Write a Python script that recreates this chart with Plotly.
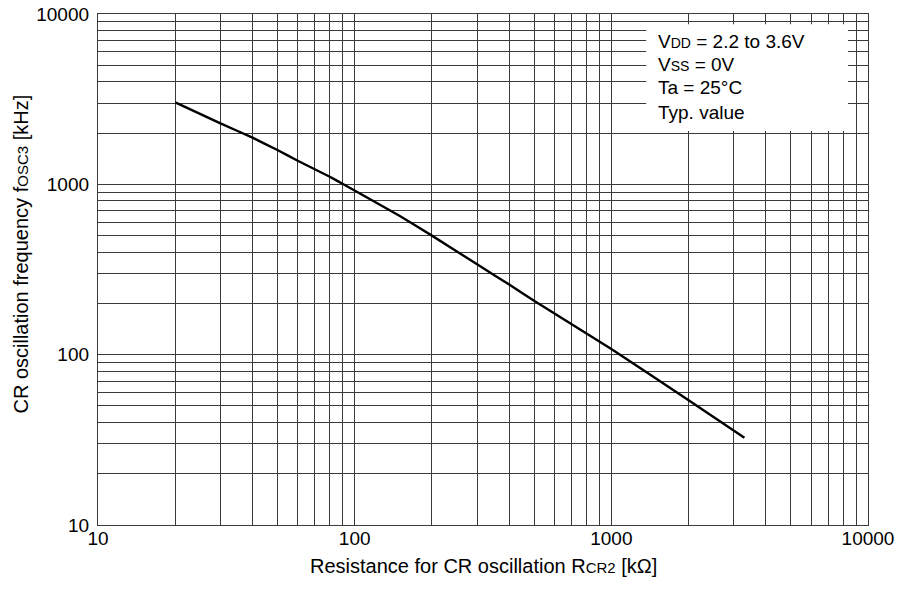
import plotly.graph_objects as go

# Data
resistance_kohm = [20, 30, 40, 50, 60, 80, 90, 150, 200, 300, 400, 500, 1000, 2000, 3300]
freq_khz = [3030, 2281, 1878, 1590, 1376, 1108, 1004, 652, 500, 339, 258, 207, 108, 54, 32.5]

x_ticks = [10, 100, 1000, 10000]
y_ticks = [10, 100, 1000, 10000]
x_tick_labels = ["10", "100", "1000", "10000"]
y_tick_labels = ["10", "100", "1000", "10000"]

note_lines = [
    'V<span style="font-size:14px">DD</span> = 2.2 to 3.6V',
    'V<span style="font-size:14px">SS</span> = 0V',
    'Ta = 25°C',
    'Typ. value',
]
x_title = 'Resistance for CR oscillation R<span style="font-size:15px">CR2</span> [kΩ]'
y_title = 'CR oscillation frequency f<span style="font-size:15px">OSC3</span> [kHz]'

FONT = "Liberation Sans, Arial, Helvetica, sans-serif"
GRID = "#3a3a3a"

fig = go.Figure()
fig.add_trace(go.Scatter(
    x=resistance_kohm, y=freq_khz, mode="lines",
    line=dict(color="black", width=2.4, shape="spline", smoothing=0.3),
    showlegend=False, hoverinfo="skip",
))

axis_common = dict(
    type="log",
    showgrid=True, gridcolor=GRID, gridwidth=1,
    showline=True, linecolor=GRID, linewidth=1.3, mirror=True,
    ticks="", zeroline=False,
    ticklabeloverflow="allow",
    tickfont=dict(family=FONT, size=19, color="black"),
    minor=dict(showgrid=True, gridcolor=GRID, gridwidth=1, dtick="D1"),
)

fig.update_xaxes(
    **axis_common,
    range=[1, 4],
    tickvals=x_ticks, ticktext=x_tick_labels,
    ticklabelstandoff=-4,
)
fig.update_yaxes(
    **axis_common,
    range=[1, 4],
    tickvals=y_ticks, ticktext=y_tick_labels,
    ticklabelstandoff=4,
)

# Axis titles
fig.add_annotation(
    xref="paper", yref="paper", x=0.5, y=-0.080,
    xanchor="center", yanchor="middle", showarrow=False,
    text=x_title, font=dict(family=FONT, size=20, color="black"),
)
fig.add_annotation(
    xref="paper", yref="paper", x=-0.1006, y=0.5303,
    xanchor="center", yanchor="middle", showarrow=False, textangle=-90,
    text=y_title, font=dict(family=FONT, size=20, color="black"),
)

# White box behind the conditions text
fig.add_shape(
    type="rect", xref="paper", yref="paper",
    x0=0.712, x1=0.974, y0=0.771, y1=0.980,
    fillcolor="white", line=dict(width=0), layer="above",
)
for txt, yp in zip(note_lines, [0.9458, 0.9002, 0.8552, 0.8082]):
    fig.add_annotation(
        xref="paper", yref="paper", x=0.7247, y=yp,
        xanchor="left", yanchor="middle", showarrow=False,
        text=txt, align="left",
        font=dict(family=FONT, size=19, color="black"),
    )

fig.update_layout(
    width=899, height=590,
    margin=dict(l=98, r=31, t=14, b=65, autoexpand=False),
    paper_bgcolor="white", plot_bgcolor="white",
    font=dict(family=FONT, size=19, color="black"),
)

fig.write_html(
    "out.html",
    config={"displayModeBar": False},
    post_script="document.body.style.margin='0';document.body.style.overflow='hidden';",
)
